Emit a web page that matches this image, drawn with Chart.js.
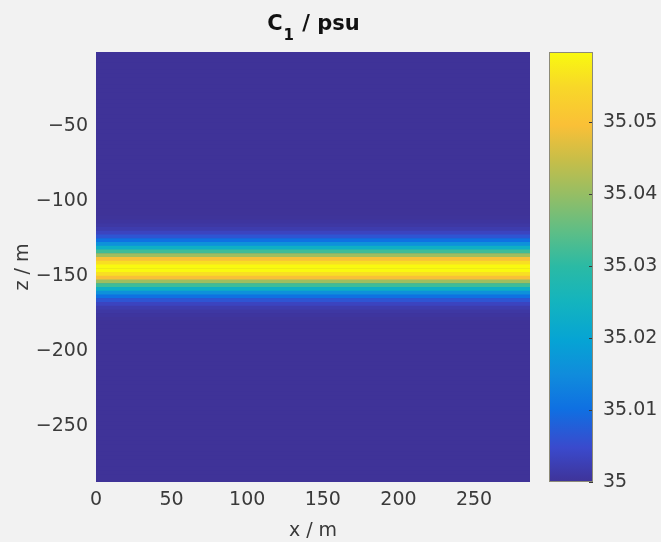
<!DOCTYPE html>
<html>
<head>
<meta charset="utf-8">
<script src="https://cdn.jsdelivr.net/npm/chart.js@4/dist/chart.umd.min.js"></script>
<style>
    html, body { margin: 0; padding: 0; background: #f2f2f2; }
    #wrap { position: relative; width: 661px; height: 542px; }
    #main { position: absolute; left: 0; top: 0; }
    #cbar { position: absolute; left: 540px; top: 0; }
</style>
</head>
<body>
<div id="wrap">
    <canvas id="main" width="661" height="542"></canvas>
    <canvas id="cbar" width="121" height="542"></canvas>
</div>
<script>
// Данные
const xExtent = [0, 287];            // ширина поля, м
const zTopCell = -1.25;              // центр верхней ячейки, м
const zStep = 2.5;                   // шаг сетки по z, м
const zCellCount = 115;
const backgroundC = 35.0;            // фоновая солёность
const bandZ = [-111.25, -113.75, -116.25, -118.75, -121.25, -123.75, -126.25,
               -128.75, -131.25, -133.75, -136.25, -138.75, -141.25, -143.75,
               -146.25, -148.75, -151.25, -153.75, -156.25, -158.75, -161.25,
               -163.75, -166.25, -168.75, -171.25, -173.75, -176.25, -178.75];
const bandC = [35.0002, 35.0005, 35.0010, 35.0019, 35.0036, 35.0063, 35.0103,
               35.0160, 35.0233, 35.0319, 35.0409, 35.0494, 35.0559, 35.0595,
               35.0595, 35.0559, 35.0494, 35.0409, 35.0319, 35.0233, 35.0160,
               35.0103, 35.0063, 35.0036, 35.0019, 35.0010, 35.0005, 35.0002];
const xTicks = [0, 50, 100, 150, 200, 250];
const zTicks = [-250, -200, -150, -100, -50];
const cTicks = [35, 35.01, 35.02, 35.03, 35.04, 35.05];
const cLimits = [35, 35.0597];

const FONT = 'DejaVu Sans';
const TEXT = '#3a3a3a';
const TICK_FONT = { family: FONT, size: 19 };

// parula (приближённо)
const parulaStops = [
    [0.00, [63, 51, 152]],
    [0.08, [58, 74, 205]],
    [0.17, [15, 112, 226]],
    [0.25, [16, 140, 220]],
    [0.33, [6, 164, 212]],
    [0.42, [20, 180, 190]],
    [0.50, [42, 186, 165]],
    [0.58, [92, 190, 135]],
    [0.67, [150, 190, 100]],
    [0.75, [200, 190, 72]],
    [0.83, [250, 192, 55]],
    [0.92, [248, 216, 40]],
    [1.00, [249, 250, 15]]
];

function parula(v) {
    let t = (v - cLimits[0]) / (cLimits[1] - cLimits[0]);
    t = Math.max(0, Math.min(1, t));
    for (let i = 1; i < parulaStops.length; i++) {
        const [t1, c1] = parulaStops[i];
        const [t0, c0] = parulaStops[i - 1];
        if (t <= t1) {
            const f = (t - t0) / (t1 - t0);
            const c = c0.map((a, k) => Math.round(a + (c1[k] - a) * f));
            return `rgb(${c[0]},${c[1]},${c[2]})`;
        }
    }
    return 'rgb(249,250,15)';
}

// строки сетки
const rows = [];
for (let k = 0; k < zCellCount; k++) {
    const z = zTopCell - zStep * k;
    const i = bandZ.indexOf(z);
    rows.push({ z: z, c: i >= 0 ? bandC[i] : backgroundC });
}

function fixTicks(list) {
    return scale => { scale.ticks = list.map(v => ({ value: v })); };
}

// заголовок с подстрочным индексом
const titlePlugin = {
    id: 'subTitle',
    beforeDatasetsDraw(chart) {
        // подложка поля цветом фона, чтобы не было щелей между строками
        const x = chart.scales.x;
        const y = chart.scales.y;
        const ctx = chart.ctx;
        const x0 = x.getPixelForValue(xExtent[0]);
        const x1 = x.getPixelForValue(xExtent[1]);
        ctx.save();
        ctx.fillStyle = parula(backgroundC);
        ctx.fillRect(x0, y.top, x1 - x0, y.bottom - y.top);
        ctx.restore();
    },
    afterDraw(chart) {
        const ctx = chart.ctx;
        const { left, right } = chart.chartArea;
        const big = `bold 21px "${FONT}"`;
        const small = `bold 15px "${FONT}"`;
        ctx.save();
        ctx.fillStyle = '#111';
        ctx.textBaseline = 'alphabetic';
        ctx.font = big;
        const wC = ctx.measureText('C').width;
        const wRest = ctx.measureText(' / psu').width;
        ctx.font = small;
        const w1 = ctx.measureText('1').width + 1;
        let x = (left + right) / 2 - (wC + w1 + wRest) / 2;
        const base = 30;
        ctx.font = big;
        ctx.fillText('C', x, base);
        x += wC + 1;
        ctx.font = small;
        ctx.fillText('1', x, base + 10);
        x += w1;
        ctx.font = big;
        ctx.fillText(' / psu', x, base);
        ctx.restore();
    }
};

const mainChart = new Chart(document.getElementById('main'), {
    type: 'bar',
    data: {
        datasets: [{
            data: rows.map(r => ({ x: xExtent, y: r.z })),
            backgroundColor: rows.map(r => parula(r.c)),
            borderWidth: 0,
            barPercentage: 1.15,
            categoryPercentage: 1
        }]
    },
    options: {
        indexAxis: 'y',
        responsive: false,
        animation: false,
        layout: { padding: { left: 0, right: 131, top: 52, bottom: 0 } },
        plugins: {
            legend: { display: false },
            tooltip: { enabled: false },
            title: { display: false }
        },
        scales: {
            x: {
                type: 'linear',
                min: xExtent[0],
                max: xExtent[1],
                offset: false,
                afterBuildTicks: fixTicks(xTicks),
                afterFit: s => { s.height = 60; },
                grid: { display: false, drawTicks: false },
                border: { display: false },
                ticks: { padding: 7, color: TEXT, maxRotation: 0, font: TICK_FONT },
                title: { display: true, text: 'x / m', color: TEXT, font: TICK_FONT, padding: { top: 0, bottom: 0 } }
            },
            y: {
                type: 'linear',
                min: -287.5,
                max: -0.5,
                offset: false,
                afterBuildTicks: fixTicks(zTicks),
                afterFit: s => { s.width = 96; },
                grid: { display: false, drawTicks: false },
                border: { display: false },
                ticks: {
                    padding: 8,
                    color: TEXT,
                    font: TICK_FONT,
                    callback: v => String(v).replace('-', '\u2212')
                },
                title: { display: true, text: 'z / m', color: TEXT, font: TICK_FONT, padding: { top: 12, bottom: 0 } }
            }
        }
    },
    plugins: [titlePlugin]
});

// градиент шкалы цвета
const colorbarPlugin = {
    id: 'colorbar',
    beforeDatasetsDraw(chart) {
        const ctx = chart.ctx;
        const y = chart.scales.y;
        const { left, right } = chart.chartArea;
        const top = y.getPixelForValue(cLimits[1]);
        const bottom = y.getPixelForValue(cLimits[0]);
        const g = ctx.createLinearGradient(0, bottom, 0, top);
        parulaStops.forEach(([t, c]) => g.addColorStop(t, `rgb(${c[0]},${c[1]},${c[2]})`));
        ctx.save();
        ctx.fillStyle = g;
        ctx.fillRect(left, top, right - left, bottom - top);
        ctx.strokeStyle = '#3a3a3a';
        ctx.lineWidth = 1;
        cTicks.forEach(v => {
            const py = Math.round(y.getPixelForValue(v)) + 0.5;
            ctx.beginPath();
            ctx.moveTo(right - 4, py);
            ctx.lineTo(right, py);
            ctx.stroke();
        });
        ctx.strokeStyle = '#8c8a78';
        ctx.strokeRect(left + 0.5, top + 0.5, right - left - 1, bottom - top - 1);
        ctx.restore();
    }
};

const cbarChart = new Chart(document.getElementById('cbar'), {
    type: 'bar',
    data: { datasets: [] },
    options: {
        responsive: false,
        animation: false,
        layout: { padding: { left: 9, right: 0, top: 52, bottom: 60 } },
        plugins: { legend: { display: false }, tooltip: { enabled: false } },
        scales: {
            x: { type: 'linear', display: false, min: 0, max: 1 },
            y: {
                type: 'linear',
                position: 'right',
                min: cLimits[0],
                max: cLimits[1],
                afterBuildTicks: fixTicks(cTicks),
                afterFit: s => { s.width = 68; },
                grid: { display: false, drawTicks: false },
                border: { display: false },
                ticks: {
                    padding: 10,
                    color: TEXT,
                    font: TICK_FONT,
                    callback: v => String(+v.toFixed(2))
                }
            }
        }
    },
    plugins: [colorbarPlugin]
});
</script>
</body>
</html>
